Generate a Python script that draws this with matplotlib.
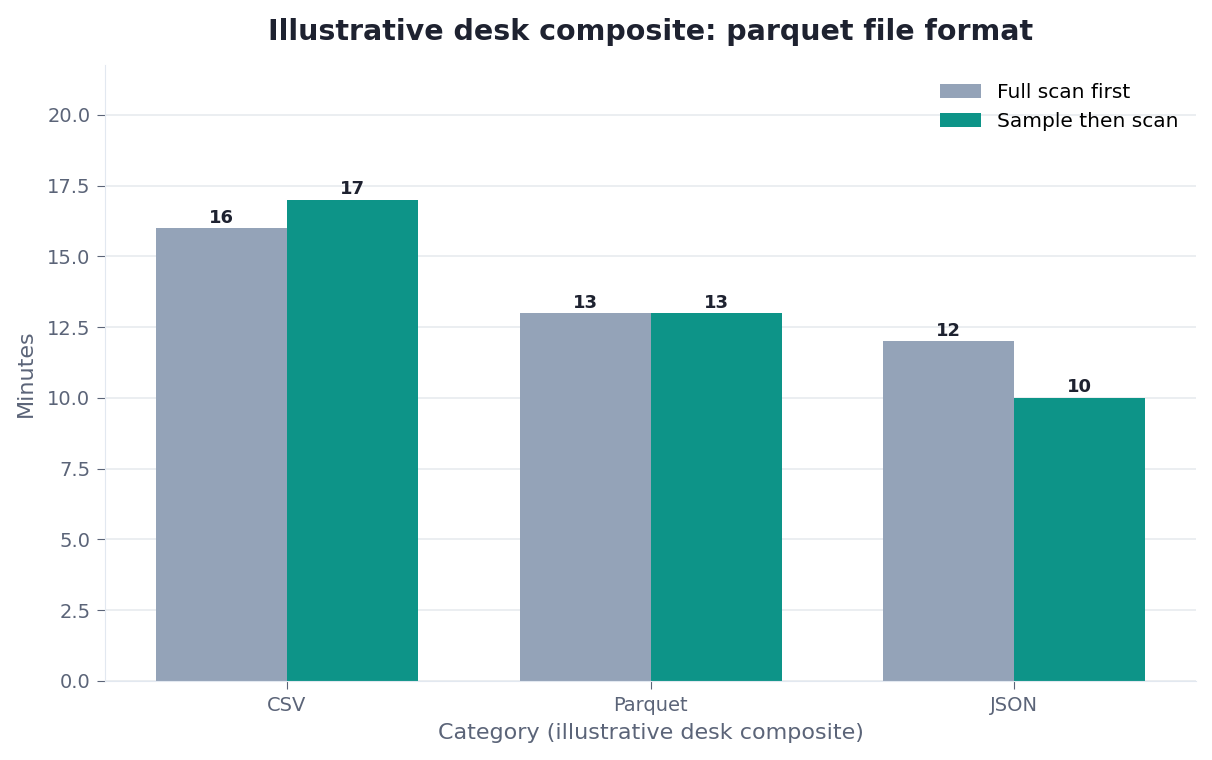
import matplotlib

matplotlib.use("Agg")
import matplotlib.pyplot as plt
import numpy as np

categories = ["CSV", "Parquet", "JSON"]
full_scan = [16, 13, 12]
sample_scan = [17, 13, 10]
series_names = ["Full scan first", "Sample then scan"]


def main():
    fig = plt.figure(figsize=(12.12, 7.6), dpi=100)
    ax = fig.add_axes([0.0866, 0.104, 0.9004, 0.8105])

    x = np.arange(len(categories))
    w = 0.36
    b1 = ax.bar(x - w / 2, full_scan, w, color="#94A3B8", label=series_names[0], zorder=2)
    b2 = ax.bar(x + w / 2, sample_scan, w, color="#0D9488", label=series_names[1], zorder=2)
    for bars in (b1, b2):
        ax.bar_label(bars, labels=[f"{v:g}" for v in bars.datavalues], padding=1,
                     fontsize=13, fontweight="bold", color="#1E2230")

    ax.set_xlim(-0.5, 2.5)
    ax.set_ylim(0, max(full_scan + sample_scan) * 1.28)
    ax.set_xticks(x)
    ax.set_xticklabels(categories)
    ax.yaxis.grid(True, color="#E8EBEF", linewidth=1.2, zorder=0)
    ax.set_axisbelow(True)
    for s in ("top", "right"):
        ax.spines[s].set_visible(False)
    for s in ("left", "bottom"):
        ax.spines[s].set_color("#E2E8F0")
    ax.tick_params(axis="both", labelsize=14, labelcolor="#5B6478", color="#5B6478",
                   length=5.5, pad=5)

    ax.set_title("Illustrative desk composite: parquet file format", fontsize=20.5,
                 fontweight="bold", color="#1E2230", pad=18)
    ax.set_xlabel("Category (illustrative desk composite)", fontsize=16, color="#5B6478",
                  labelpad=6)
    ax.set_ylabel("Minutes", fontsize=16, color="#5B6478", labelpad=8)
    ax.legend(frameon=False, fontsize=14.5, loc="upper right")

    fig.savefig("out.png", dpi=100)


if __name__ == "__main__":
    main()
